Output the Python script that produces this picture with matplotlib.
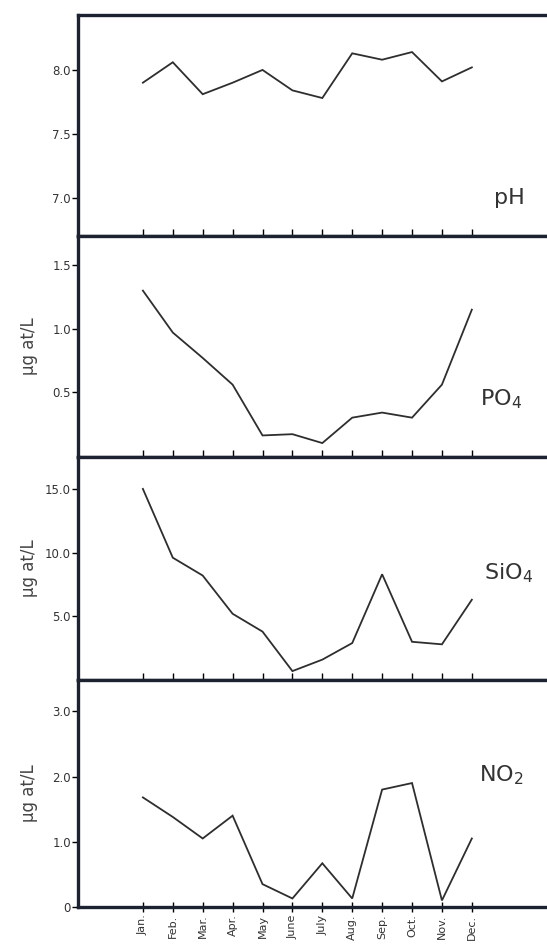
import matplotlib
matplotlib.use("Agg")
import matplotlib.pyplot as plt

months = ["Jan.", "Feb.", "Mar.", "Apr.", "May", "June", "July", "Aug.", "Sep.", "Oct.", "Nov.", "Dec."]
ph = [7.90, 8.06, 7.81, 7.90, 8.00, 7.84, 7.78, 8.13, 8.08, 8.14, 7.91, 8.02]
po4 = [1.30, 0.97, 0.77, 0.56, 0.16, 0.17, 0.10, 0.30, 0.34, 0.30, 0.56, 1.15]
sio4 = [15.0, 9.6, 8.2, 5.2, 3.8, 0.7, 1.6, 2.9, 8.3, 3.0, 2.8, 6.3]
no2 = [1.68, 1.38, 1.05, 1.40, 0.35, 0.13, 0.67, 0.13, 1.80, 1.90, 0.10, 1.05]

x = list(range(1, 13))
INK = "#1c2230"
LINE = "#2e2e2e"

# panel positions in figure fractions (from the 547x950 scan)
panels = [
    dict(y=ph, bottom=0.7516, top=0.9842, ylim=(6.70, 8.43), ticks=[7.0, 7.5, 8.0],
         labels=["7.0", "7.5", "8.0"], name="pH", pos=(0.917, 0.17), unit=False),
    dict(y=po4, bottom=0.5189, top=0.7516, ylim=(-0.01, 1.73), ticks=[0.5, 1.0, 1.5],
         labels=["0.5", "1.0", "1.5"], name=r"PO$_4$", pos=(0.90, 0.26), unit=True),
    dict(y=sio4, bottom=0.2842, top=0.5189, ylim=(0, 17.5), ticks=[5, 10, 15],
         labels=["5.0", "10.0", "15.0"], name=r"SiO$_4$", pos=(0.915, 0.48), unit=True),
    dict(y=no2, bottom=0.0453, top=0.2842, ylim=(0, 3.48), ticks=[0, 1, 2, 3],
         labels=["0", "1.0", "2.0", "3.0"], name=r"NO$_2$", pos=(0.90, 0.58), unit=True),
]

fig = plt.figure(figsize=(5.47, 9.5), dpi=100)
left = 78 / 547

for k, p in enumerate(panels):
    ax = fig.add_axes([left, p["bottom"], 1.002 - left, p["top"] - p["bottom"]])
    ax.plot(x, p["y"], color=LINE, lw=1.3, solid_joinstyle="miter")
    ax.set_xlim(-1.17, 14.55)
    ax.set_ylim(*p["ylim"])
    ax.set_yticks(p["ticks"])
    ax.set_yticklabels(p["labels"], fontsize=8.5, color="#333")
    ax.set_xticks(x)
    last = k == len(panels) - 1
    if last:
        ax.set_xticklabels(months, rotation=90, fontsize=8, color="#333")
        ax.tick_params(axis="x", direction="inout", length=7, width=1, pad=2)
    else:
        ax.set_xticklabels([])
        ax.tick_params(axis="x", direction="in", length=5, width=1)
    ax.tick_params(axis="y", direction="out", length=4, width=1, pad=1)
    for s in ["top", "bottom", "left"]:
        ax.spines[s].set_linewidth(2.4)
        ax.spines[s].set_color(INK)
    ax.spines["right"].set_visible(False)
    ax.text(p["pos"][0], p["pos"][1], p["name"], transform=ax.transAxes,
            ha="center", va="center", fontsize=16, color="#333")
    if p["unit"]:
        ax.set_ylabel("µg at/L", fontsize=12, color="#444")
        ax.yaxis.set_label_coords(-0.085, 0.5)

fig.savefig("out.png", dpi=100, facecolor="white")
